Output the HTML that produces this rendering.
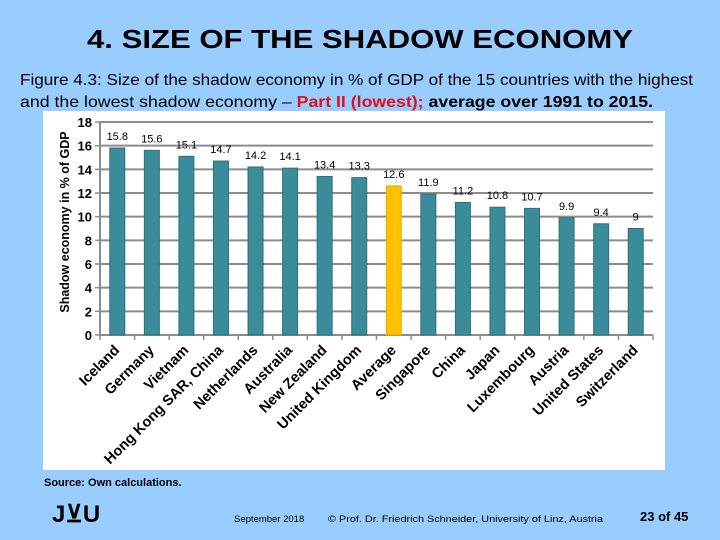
<!DOCTYPE html>
<html><head><meta charset="utf-8"><style>
html,body{margin:0;padding:0;background:#99ccff;}
svg{display:block;font-family:"Liberation Sans",Arial,sans-serif;}
</style></head><body>
<svg width="720" height="540" viewBox="0 0 720 540">
<text x="360" y="48" text-anchor="middle" font-size="26" font-weight="bold" textLength="546" lengthAdjust="spacingAndGlyphs">4. SIZE OF THE SHADOW ECONOMY</text>
<text x="20" y="85" font-size="16" textLength="673" lengthAdjust="spacingAndGlyphs">Figure 4.3: Size of the shadow economy in % of GDP of the 15 countries with the highest</text>
<text x="20" y="107" font-size="16" textLength="633" lengthAdjust="spacingAndGlyphs">and the lowest shadow economy – <tspan fill="#e0101a" font-weight="bold">Part II (lowest);</tspan><tspan font-weight="bold"> average over 1991 to 2015.</tspan></text>
<rect x="43" y="111" width="622" height="359" fill="#fff"/>
<g id="chart"></g>
<text transform="translate(69,222) rotate(-90)" text-anchor="middle" font-size="12.5" font-weight="bold">Shadow  economy in % of GDP</text>
<text x="44" y="486" font-size="11" font-weight="bold">Source: Own calculations.</text>
<text x="52" y="522" font-size="24" font-weight="bold">J⊻U</text>
<text x="234" y="522" font-size="9.5">September 2018</text>
<text x="328" y="522" font-size="9.5" textLength="275" lengthAdjust="spacingAndGlyphs">© Prof. Dr. Friedrich Schneider, University of Linz, Austria</text>
<text x="640" y="521" font-size="13" font-weight="bold">23 of 45</text>
</svg>
<script>
const categories = ["Iceland","Germany","Vietnam","Hong Kong SAR, China","Netherlands","Australia","New Zealand","United Kingdom","Average","Singapore","China","Japan","Luxembourg","Austria","United States","Switzerland"];
const values = [15.8,15.6,15.1,14.7,14.2,14.1,13.4,13.3,12.6,11.9,11.2,10.8,10.7,9.9,9.4,9];
const valueLabels = ["15.8","15.6","15.1","14.7","14.2","14.1","13.4","13.3","12.6","11.9","11.2","10.8","10.7","9.9","9.4","9"];
const yTicks = [0,2,4,6,8,10,12,14,16,18];
const highlight = "Average";

const NS = "http://www.w3.org/2000/svg";
const g = document.getElementById('chart');
const x0 = 100, x1 = 653, yTop = 122, yBot = 335, yMax = 18;
const step = (x1 - x0) / categories.length;
const yScale = v => yBot - (v / yMax) * (yBot - yTop);
const xCenter = i => x0 + step * (i + 0.5);
function mk(tag, attrs) { const e = document.createElementNS(NS, tag); for (const k in attrs) e.setAttribute(k, attrs[k]); g.appendChild(e); return e; }

yTicks.forEach(t => {
  const y = yScale(t);
  if (t > 0) {
    const l = mk('line', {x1: x0, x2: x1, y1: y, y2: y, stroke: '#8c8c8c', 'stroke-width': 2});
    
    
  }
  const tk = mk('line', {x1: x0 - 5, x2: x0, y1: y, y2: y, stroke: '#8c8c8c', 'stroke-width': 1.5});
  
  
  const tx = mk('text', {x: x0 - 8, y: y + 5, 'text-anchor': 'end', 'font-size': 13, 'font-weight': 'bold'});
  tx.textContent = t;
  
  
});
const ya = mk('line', {x1: x0, x2: x0, y1: yTop, y2: yBot, stroke: '#8c8c8c', 'stroke-width': 2});


const xa = mk('line', {x1: x0, x2: x1, y1: yBot, y2: yBot, stroke: '#8c8c8c', 'stroke-width': 2});



for (let i = 0; i <= categories.length; i++) {
  const x = x0 + step * i;
  const t = mk('line', {x1: x, x2: x, y1: yBot, y2: yBot + 5, stroke: '#8c8c8c', 'stroke-width': 1.5});
  
  
}

categories.forEach((c, i) => {
  const cx = xCenter(i), w = 15, y = yScale(values[i]);
  const isH = c === highlight;
  const b = mk('rect', {x: cx - w / 2, y: y, width: w, height: yBot - y, fill: isH ? '#ffc000' : '#3b8c9b', stroke: isH ? '#e6ad00' : '#2f6f7c', 'stroke-width': 1});
  
  
  const vl = mk('text', {x: cx, y: y - 8, 'text-anchor': 'middle', 'font-size': 11});
  vl.textContent = valueLabels[i];
  
  
  const ax = cx + 3, ay = yBot + 16;
  const cl = mk('text', {x: ax, y: ay, 'text-anchor': 'end', 'font-size': 14.5, 'font-weight': 'bold', transform: `rotate(-45 ${ax} ${ay})`});
  cl.textContent = c;
  
  
});
</script>
</body></html>
